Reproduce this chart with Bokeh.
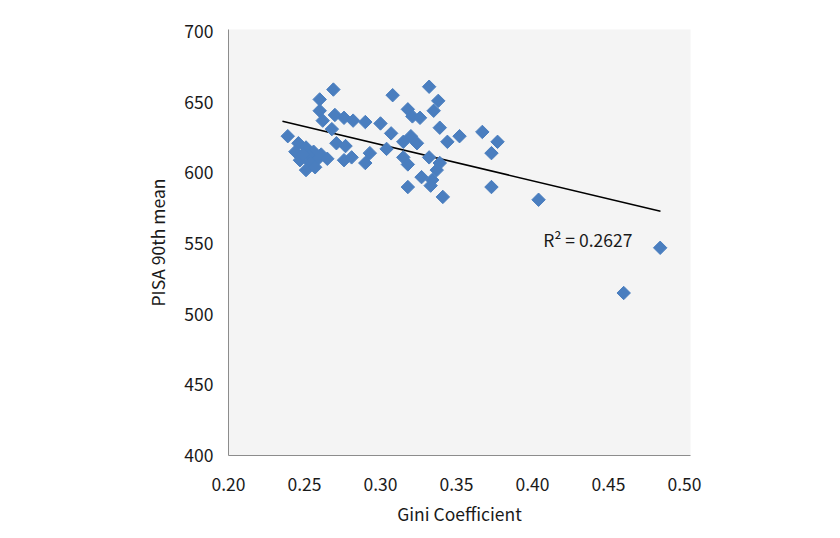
import numpy as np
from bokeh.plotting import figure
from bokeh.models import FixedTicker, Label, Range1d
from bokeh.embed import file_html
from bokeh.resources import INLINE

# Gini coefficient (x) and PISA 90th-percentile mean (y)
gini = [0.239, 0.246, 0.244, 0.251, 0.256, 0.247, 0.253, 0.258, 0.254, 0.251,
        0.261, 0.265, 0.269, 0.260, 0.260, 0.262, 0.270, 0.276, 0.282, 0.290,
        0.300, 0.268, 0.271, 0.277, 0.276, 0.281, 0.293, 0.290, 0.332, 0.308,
        0.338, 0.318, 0.335, 0.321, 0.326, 0.339, 0.352, 0.367, 0.377, 0.344,
        0.307, 0.320, 0.324, 0.315, 0.304, 0.332, 0.315, 0.318, 0.339, 0.337,
        0.373, 0.327, 0.334, 0.333, 0.318, 0.373, 0.341, 0.404, 0.484, 0.460,
        0.249, 0.257]
pisa90 = [626, 621, 615, 618, 615, 609, 612, 609, 607, 602,
          613, 610, 659, 652, 644, 637, 641, 639, 637, 636,
          635, 631, 621, 619, 609, 611, 614, 607, 661, 655,
          651, 645, 644, 640, 639, 632, 626, 629, 622, 622,
          628, 626, 621, 622, 617, 611, 611, 606, 607, 602,
          614, 597, 595, 591, 590, 590, 583, 581, 547, 515,
          613, 604]

# linear trend line as shown in the chart
trend_x = [0.2355, 0.4842]
trend_y = [636.6, 572.9]

x_ticks = [0.20, 0.25, 0.30, 0.35, 0.40, 0.45, 0.50]
y_ticks = [400, 450, 500, 550, 600, 650, 700]
r2_text = "R\u00b2 = 0.2627"

FONT = "Noto Sans CJK KR"
FS = "17.5px"

p = figure(width=830, height=528, output_backend="svg", toolbar_location=None,
           x_range=Range1d(0.2, 0.50395), y_range=Range1d(400, 701.5),
           min_border_left=228, min_border_right=140, min_border_top=29,
           min_border_bottom=72)
p.background_fill_color = "#F4F4F4"
p.border_fill_color = "white"
p.outline_line_color = None
p.xgrid.visible = False
p.ygrid.visible = False

for ax in (p.xaxis[0], p.yaxis[0]):
    ax.axis_line_color = "#8C8C8C"
    ax.axis_line_width = 1
    ax.major_tick_line_color = None
    ax.minor_tick_line_color = None
    ax.major_tick_out = 0
    ax.major_tick_in = 0
    ax.major_label_text_font = FONT
    ax.major_label_text_font_size = FS
    ax.major_label_text_color = "#1a1a1a"
    ax.axis_label_text_font = FONT
    ax.axis_label_text_font_size = FS
    ax.axis_label_text_font_style = "normal"
    ax.axis_label_text_color = "#1a1a1a"

p.xaxis.ticker = FixedTicker(ticks=x_ticks)
p.yaxis.ticker = FixedTicker(ticks=y_ticks)
p.xaxis.major_label_overrides = {t: f"{t:.2f}" for t in x_ticks}
p.xaxis.major_label_standoff = 22
p.yaxis.major_label_standoff = 15
p.xaxis.axis_label = "Gini Coefficient"
p.yaxis.axis_label = "PISA 90th mean"
p.xaxis.axis_label_standoff = 7
p.yaxis.axis_label_standoff = 11

p.line(trend_x, trend_y, line_color="black", line_width=1.5)

p.scatter(gini, pisa90, marker="square", size=9.5, angle=np.pi / 4,
          fill_color="#4A7EBF", line_color="#4A7EBF")

p.add_layout(Label(x=0.407, y=553, text=r2_text, text_font=FONT,
                   text_font_size=FS, text_color="#1a1a1a",
                   text_baseline="middle", text_align="left"))

open("out.html", "w").write(file_html(p, INLINE))
